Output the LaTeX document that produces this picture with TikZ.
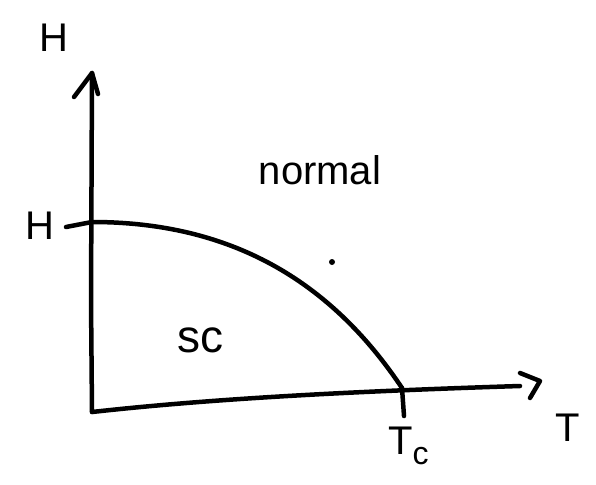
\documentclass[tikz,border=0pt]{standalone}
\usepackage{fontspec}
\setmainfont{Liberation Sans}
\begin{document}
\begin{tikzpicture}[x=1pt,y=-1pt,
  ink/.style={line width=4.5pt,line cap=round,line join=round,black},
  lbl/.style={inner sep=0pt,font=\fontsize{40}{40}\selectfont}]
\useasboundingbox (0,0) rectangle (596,484);
\coordinate (O) at (92,412);
\coordinate (Ytop) at (92,73);
\coordinate (Xend) at (520,386);
\coordinate (Hc) at (92,222);
\coordinate (Tcc) at (402,388);
% y axis
\draw[ink] (O) -- (91,300) -- (Ytop);
\draw[ink] (74,97) -- (Ytop) -- (98,94);
% x axis
\draw[ink] (O) .. controls (200,400) and (330,392) .. (Xend);
\draw[ink] (520,373) -- (540,381) -- (530,398);
% H tick
\draw[ink] (66,227) -- (Hc);
% phase boundary
\draw[ink] (Hc) .. controls (230,222) and (330,280) .. (Tcc);
% Tc tick
\draw[ink] (Tcc) -- (404,416);
% dot
\fill (332,262) circle (3pt);
% labels
\node[lbl] (Hy) at (54,38) {H};
\node[lbl] (Hl) at (40,226) {H};
\node[lbl,font=\fontsize{40}{40}\selectfont] (norm) at (320,170) {normal};
\node[lbl,font=\fontsize{46}{46}\selectfont] (sc) at (200,340) {sc};
\node[lbl,anchor=west] (Tc) at (388,446) {T\raisebox{-10pt}{\fontsize{32}{32}\selectfont c}};
\node[lbl] (T) at (568,428) {T};
\end{tikzpicture}
\end{document}
